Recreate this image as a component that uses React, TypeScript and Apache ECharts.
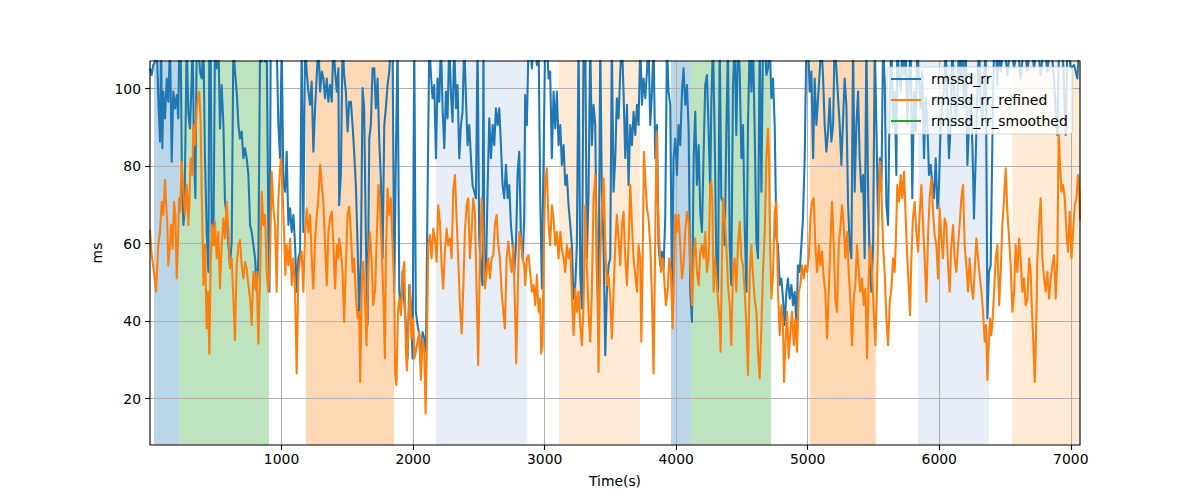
import React, { useEffect, useRef } from 'react';
import * as echarts from 'echarts';

// ---- data -------------------------------------------------------------
const xTickValues = [1000, 2000, 3000, 4000, 5000, 6000, 7000];
const yTickValues = [20, 40, 60, 80, 100];

// shaded windows (seconds) and their kind
const spanStart = [30, 223, 1186, 2174, 3109, 3961, 4113, 5018, 5839, 6555];
const spanEnd = [223, 905, 1855, 2868, 3725, 4113, 4721, 5517, 6378, 7070];
const spanKind = ['C0', 'C2', 'C1', 'C0l', 'C1l', 'C0', 'C2', 'C1', 'C0l', 'C1l'];

// rmssd_rr  [time(s), ms]  (values above the axis top are clipped)
const rmssdRr: [number, number][] = [
  [0,105.2],[13,103.5],[25,106.1],[38,106.9],[51,112],[63,97.5],[76,86.3],[84,112],[94,84.6],[101,99.2],[114,92.3],[127,102.6],[139,96.6],[152,112],[165,81.1],[177,99.2],[190,94.9],[203,98.3],[215,92.3],[223,112],[233,112],[243,75.1],[254,64.8],[261,67.4],[269,86.3],[279,112],[292,93.2],[304,89.7],[317,102.6],[324,112],[335,82.9],[345,71.7],[355,112],[368,112],[380,104.4],[393,102.6],[406,112],[418,82.0],[431,63.0],[444,52.7],[451,112],[461,112],[469,63.0],[482,59.6],[494,112],[507,105.2],[520,112],[532,89.7],[545,100.9],[558,90.6],[570,70.8],[583,67.4],[596,59.6],[608,54.4],[621,60.5],[634,112],[646,104.4],[659,99.2],[672,90.6],[684,87.1],[697,88.9],[710,82.0],[722,84.6],[735,82.0],[748,77.7],[761,64.8],[773,63.0],[786,59.6],[799,56.2],[811,47.6],[824,56.2],[837,112],[849,106.9],[862,112],[875,106.9],[887,112],[900,63.0],[908,47.6],[918,112],[938,112],[963,112],[976,90.6],[989,82.0],[1001,112],[1014,75.1],[1027,73.4],[1039,83.7],[1052,64.8],[1065,69.1],[1077,63.0],[1090,67.4],[1103,59.6],[1115,47.6],[1128,56.2],[1141,57.9],[1153,112],[1166,63.0],[1179,112],[1191,104.4],[1204,99.2],[1217,95.8],[1229,101.8],[1242,83.7],[1255,94.9],[1268,103.5],[1280,112],[1293,99.2],[1306,104.4],[1318,102.6],[1331,97.5],[1344,102.6],[1356,96.6],[1369,100.9],[1382,96.6],[1394,112],[1407,104.4],[1420,99.2],[1432,105.2],
  [1438,69.9],[1451,77.7],[1464,112],[1476,103.5],[1489,99.2],[1502,88.9],[1514,96.6],[1527,96.6],[1540,90.6],[1552,83.7],[1565,75.1],[1578,59.6],[1590,41.5],[1603,56.2],[1616,100.1],[1628,94.9],[1641,61.3],[1654,39.0],[1667,87.1],[1679,90.6],[1692,105.2],[1705,105.2],[1717,94.9],[1730,102.6],[1743,86.3],[1755,76.8],[1768,56.2],[1781,90.6],[1793,94.9],[1806,100.9],[1819,104.4],[1831,112],[1844,112],[1857,47.6],[1869,82.0],[1882,112],[1895,47.6],[1907,42.4],[1920,52.7],[1933,45.0],[1945,39.0],[1958,30.4],[1971,49.3],[1983,44.1],[1996,30.4],[2009,112],[2021,42.4],[2034,39.0],[2047,36.4],[2059,28.6],[2072,37.2],[2085,35.5],[2098,32.1],[2110,71.7],[2123,112],[2136,103.5],[2148,97.5],[2161,100.9],[2174,82.0],[2186,102.6],[2199,96.6],[2212,112],[2224,94.9],[2237,84.6],[2250,99.2],[2262,92.3],[2275,112],[2288,98.3],[2300,91.4],[2313,112],[2326,94.9],[2338,100.9],[2351,82.0],[2364,90.6],[2376,94.0],[2389,112],[2402,97.5],[2414,85.4],[2427,90.6],[2440,82.0],[2452,75.1],[2465,73.4],[2478,71.7],[2490,112],[2503,61.3],[2516,52.7],[2528,49.3],[2535,112],[2541,56.2],[2554,51.9],[2566,73.4],[2579,92.3],[2592,82.0],[2605,90.6],[2617,85.4],[2630,94.9],[2643,90.6],[2655,94.9],[2668,85.4],[2680,75.1],[2693,71.7],[2706,80.3],[2719,71.7],[2731,75.1],[2744,64.8],[2757,59.6],[2769,52.7],[2782,59.6],[2795,78.5],[2807,83.7],[2820,61.3],[2833,56.2],[2845,66.5],
  [2852,98.3],[2865,90.6],[2878,112],[2890,112],[2903,105.2],[2916,112],[2928,112],[2941,106.1],[2954,112],[2966,73.4],[2979,48.4],[2992,82.0],[3004,112],[3017,112],[3030,102.6],[3042,104.4],[3055,82.0],[3068,99.2],[3081,89.7],[3093,99.2],[3106,85.4],[3119,90.6],[3131,80.3],[3144,85.4],[3157,75.1],[3169,77.7],[3182,69.9],[3195,64.8],[3207,59.6],[3220,45.8],[3233,49.3],[3245,59.6],[3258,112],[3271,51.9],[3283,43.3],[3296,112],[3309,112],[3321,56.2],[3334,73.4],[3347,112],[3359,85.4],[3372,95.8],[3385,90.6],[3397,52.7],[3410,42.4],[3423,112],[3435,73.4],[3448,59.6],[3461,31.2],[3473,47.6],[3486,54.4],[3499,56.2],[3511,112],[3524,73.4],[3537,82.0],[3549,97.5],[3562,92.3],[3575,104.4],[3588,112],[3600,99.2],[3613,82.0],[3626,95.8],[3638,75.1],[3651,90.6],[3664,85.4],[3676,94.0],[3689,88.0],[3702,95.8],[3714,90.6],[3727,112],[3740,95.8],[3752,102.6],[3765,97.5],[3778,104.4],[3790,112],[3803,90.6],[3816,99.2],[3828,112],[3841,82.0],[3854,90.6],[3866,59.6],[3879,54.4],[3892,57.9],[3904,53.6],[3917,66.5],[3930,112],[3942,99.2],[3955,95.8],[3968,47.6],[3980,82.0],[3993,87.1],[4006,77.7],[4018,90.6],[4031,85.4],[4044,99.2],[4056,105.2],[4069,95.8],[4082,100.9],[4095,88.9],[4107,47.6],[4120,39.8],[4133,82.0],[4145,94.0],[4158,75.1],[4171,85.4],[4183,68.2],[4196,63.0],[4209,83.7],[4221,100.9],[4234,103.5],[4247,88.9],[4259,73.4],
  [4267,95.8],[4280,112],[4293,87.1],[4305,56.2],[4318,47.6],[4331,112],[4343,71.7],[4356,70.8],[4369,59.6],[4381,88.0],[4394,112],[4407,59.6],[4419,49.3],[4432,100.9],[4445,112],[4457,88.0],[4470,112],[4483,104.4],[4496,82.0],[4508,90.6],[4521,64.8],[4534,47.6],[4546,90.6],[4559,112],[4572,99.2],[4584,112],[4597,88.9],[4610,60.5],[4622,56.2],[4635,112],[4648,73.4],[4660,112],[4673,112],[4686,103.5],[4698,105.2],[4711,112],[4724,97.5],[4736,102.6],[4749,90.6],[4762,61.3],[4774,59.6],[4787,49.3],[4800,51.0],[4812,45.8],[4825,39.0],[4838,47.6],[4850,51.0],[4863,45.8],[4876,49.3],[4888,44.1],[4901,47.6],[4914,39.0],[4926,54.4],[4939,52.7],[4952,59.6],[4964,66.5],[4977,82.0],[4990,112],[5003,112],[5015,99.2],[5028,104.4],[5041,82.0],[5053,102.6],[5066,90.6],[5079,97.5],[5091,104.4],[5104,112],[5117,102.6],[5129,90.6],[5142,83.7],[5155,88.9],[5167,97.5],[5180,86.3],[5193,90.6],[5205,112],[5218,105.2],[5231,97.5],[5243,90.6],[5256,80.3],[5269,92.3],[5281,102.6],[5294,95.8],[5307,69.9],[5319,59.6],[5332,56.2],[5345,112],[5357,73.4],[5370,90.6],[5383,99.2],[5395,82.0],[5408,73.4],[5421,77.7],[5433,56.2],[5446,112],[5459,73.4],[5471,56.2],[5484,47.6],[5497,59.6],[5510,112],[5522,90.6],[5535,64.8],[5548,82.0],[5560,73.4],[5573,112],[5586,100.9],[5598,69.9],[5611,64.8],[5624,99.2],[5636,112],[5649,90.6],[5661,99.2],[5674,77.7],
  [5681,112],[5694,102.6],[5707,99.2],[5719,112],[5732,103.5],[5745,112],[5757,90.6],[5770,102.6],[5783,112],[5795,71.7],[5808,99.2],[5821,88.9],[5833,112],[5846,102.6],[5859,94.9],[5871,104.4],[5884,82.0],[5897,97.5],[5910,90.6],[5922,77.7],[5935,80.3],[5948,75.1],[5960,71.7],[5973,82.0],[5986,69.1],[5998,75.1],[6011,90.6],[6024,97.5],[6036,99.2],[6049,112],[6062,95.8],[6074,82.0],[6087,90.6],[6100,112],[6112,99.2],[6125,90.6],[6138,97.5],[6150,112],[6163,102.6],[6176,112],[6188,94.9],[6201,112],[6214,80.3],[6226,90.6],[6239,97.5],[6252,85.4],[6264,66.5],[6277,82.0],[6290,99.2],[6302,112],[6315,95.8],[6328,92.3],[6340,99.2],[6353,112],[6366,40.7],[6378,52.7],[6391,54.4],[6404,87.1],[6417,112],[6429,112],[6442,100.9],[6455,112],[6467,104.4],[6493,112],[6518,103.5],[6543,112],[6569,105.2],[6594,112],[6619,102.6],[6645,112],[6670,104.4],[6695,112],[6721,105.2],[6746,112],[6771,103.5],[6797,112],[6822,104.4],[6847,112],[6873,102.6],[6890,90.6],[6898,88.0],[6911,112],[6936,112],[6961,88.0],[6974,112],[6999,105.2],[7025,106.1],[7050,102.6],[7065,112]
];

// rmssd_rr_refined  [time(s), ms]
const rmssdRrRefined: [number, number][] = [
  [0,63.5],[13,57.0],[30,52.7],[46,47.6],[63,59.6],[76,63.0],[89,70.8],[101,67.4],[114,76.4],[122,70.8],[132,64.8],[139,54.4],[152,59.6],[160,64.8],[172,58.7],[183,70.8],[193,67.4],[203,51.0],[213,60.5],[221,71.7],[228,68.2],[241,81.1],[254,73.4],[266,67.4],[279,75.1],[292,64.8],[299,70.8],[309,82.0],[322,77.7],[330,90.6],[342,85.4],[355,94.9],[368,98.3],[375,99.2],[385,91.4],[393,73.4],[401,60.5],[406,49.3],[418,59.6],[431,38.1],[441,47.6],[451,31.6],[461,54.4],[472,64.8],[482,59.6],[494,65.6],[507,56.2],[520,63.0],[532,48.4],[545,59.6],[558,66.5],[570,61.3],[583,70.8],[596,63.0],[608,53.6],[621,56.2],[634,45.8],[646,35.1],[659,54.4],[672,59.6],[684,60.9],[697,54.4],[710,51.0],[722,55.3],[735,53.6],[748,49.3],[761,45.8],[773,39.0],[786,52.7],[799,48.4],[811,52.7],[824,34.2],[837,51.9],[849,73.4],[862,64.8],[875,67.4],[887,52.7],[900,47.6],[913,57.9],[925,78.5],[938,69.1],[951,64.8],[963,47.6],[976,71.7],[989,79.4],[996,82.0],[1006,75.1],[1019,63.0],[1029,51.9],[1039,59.6],[1052,54.4],[1065,61.3],[1077,49.3],[1090,56.2],[1103,47.6],[1115,26.5],[1128,51.9],[1141,56.2],[1153,57.9],[1166,47.6],[1179,63.0],[1191,69.1],[1204,63.0],[1217,67.4],[1229,56.2],[1242,48.4],[1255,61.3],[1268,67.4],[1280,71.7],[1293,80.3],[1306,75.1],[1318,70.8],[1331,59.6],[1344,49.3],[1356,63.0],[1369,66.5],[1382,68.2],[1394,59.6],[1407,48.4],[1420,59.6],[1432,56.2],
  [1438,61.3],[1451,57.9],[1464,52.7],[1476,39.8],[1489,54.4],[1502,67.4],[1514,69.5],[1527,63.0],[1540,52.7],[1552,56.2],[1565,46.7],[1578,40.7],[1590,42.4],[1598,24.3],[1611,51.0],[1621,55.3],[1634,45.8],[1646,33.8],[1659,52.7],[1672,63.0],[1684,56.2],[1697,44.1],[1712,48.4],[1722,59.6],[1737,75.1],[1748,69.9],[1760,59.6],[1773,47.6],[1786,30.4],[1793,56.2],[1806,74.2],[1819,67.4],[1831,71.7],[1844,59.6],[1857,47.6],[1864,26.1],[1874,23.5],[1885,42.4],[1895,45.8],[1907,41.5],[1920,51.9],[1933,55.3],[1945,32.9],[1953,27.3],[1966,40.7],[1976,49.3],[1988,35.5],[2001,40.7],[2011,30.4],[2021,32.1],[2034,34.7],[2047,37.2],[2059,24.8],[2072,35.5],[2085,32.1],[2095,16.2],[2105,33.8],[2115,59.6],[2128,62.2],[2141,56.2],[2153,63.9],[2166,61.3],[2179,55.3],[2191,69.9],[2204,65.6],[2217,54.4],[2229,48.4],[2242,57.9],[2255,63.9],[2267,59.6],[2280,61.3],[2293,56.2],[2305,73.4],[2318,77.7],[2331,66.5],[2343,56.2],[2356,44.1],[2369,36.8],[2381,47.6],[2394,63.0],[2407,69.9],[2419,71.7],[2432,56.2],[2445,63.0],[2457,71.7],[2470,68.2],[2483,47.6],[2495,28.6],[2508,56.2],[2521,71.7],[2533,61.3],[2546,48.4],[2559,52.7],[2571,56.2],[2584,51.0],[2597,56.2],[2610,57.0],[2622,64.8],[2635,67.4],[2648,59.6],[2660,56.2],[2673,47.6],[2686,42.4],[2698,38.1],[2711,56.2],[2724,60.5],[2736,56.2],[2749,52.7],[2762,59.6],[2774,44.1],[2784,29.1],[2797,49.3],[2807,63.0],[2820,61.3],[2833,56.2],[2845,54.4],
  [2852,49.3],[2865,56.2],[2878,57.0],[2890,52.7],[2903,47.6],[2916,49.3],[2928,44.1],[2941,51.9],[2954,42.4],[2966,45.8],[2974,31.6],[2984,33.8],[2994,59.6],[3004,75.1],[3017,79.4],[3030,64.8],[3042,59.6],[3055,69.9],[3068,66.5],[3081,59.6],[3093,63.0],[3106,56.2],[3119,63.0],[3131,58.7],[3144,56.2],[3157,52.7],[3169,59.6],[3182,56.2],[3195,58.7],[3207,47.6],[3220,36.4],[3233,48.4],[3245,42.4],[3258,47.6],[3271,39.0],[3283,33.8],[3296,44.1],[3309,69.9],[3321,54.4],[3334,42.4],[3347,34.7],[3359,47.6],[3372,71.7],[3385,77.7],[3397,59.6],[3410,26.9],[3423,56.2],[3435,69.1],[3448,76.8],[3461,59.6],[3473,49.3],[3486,51.9],[3499,45.8],[3511,35.5],[3524,47.6],[3537,59.6],[3549,67.4],[3562,61.3],[3575,54.4],[3588,64.8],[3600,68.2],[3613,56.2],[3626,49.3],[3638,59.6],[3651,75.1],[3664,64.8],[3676,56.2],[3689,51.9],[3702,47.6],[3714,59.6],[3727,56.2],[3735,34.7],[3745,54.4],[3755,83.7],[3765,76.8],[3778,69.1],[3790,66.5],[3803,59.6],[3816,45.8],[3828,26.5],[3841,61.3],[3851,88.9],[3861,69.9],[3871,61.3],[3884,52.7],[3897,56.2],[3909,51.0],[3922,44.1],[3935,47.6],[3947,56.2],[3960,52.7],[3973,38.1],[3983,51.9],[3993,67.4],[4006,63.0],[4018,67.4],[4031,59.6],[4044,51.0],[4056,54.4],[4069,63.0],[4082,68.2],[4095,65.6],[4107,54.4],[4120,44.1],[4133,56.2],[4145,61.3],[4158,52.7],[4171,49.3],[4183,57.9],[4196,59.6],[4209,56.2],[4221,63.0],[4234,52.7],[4247,56.2],[4259,75.1],
  [4267,76.0],[4275,70.8],[4285,47.6],[4293,56.2],[4305,51.9],[4318,45.8],[4331,39.8],[4338,32.1],[4348,56.2],[4356,71.7],[4369,66.5],[4381,59.6],[4394,49.3],[4407,44.1],[4419,33.8],[4432,52.7],[4445,56.2],[4457,47.6],[4470,59.6],[4483,65.6],[4496,56.2],[4508,54.4],[4521,47.6],[4534,39.0],[4546,26.1],[4559,51.9],[4572,59.6],[4584,51.9],[4597,45.8],[4610,42.4],[4622,32.1],[4635,25.2],[4648,39.0],[4660,52.7],[4673,63.0],[4686,82.0],[4698,89.7],[4706,82.0],[4714,59.6],[4724,45.8],[4736,51.9],[4749,68.2],[4762,70.8],[4774,47.6],[4787,36.4],[4800,44.1],[4812,39.0],[4820,24.3],[4830,33.8],[4843,42.4],[4855,30.4],[4868,37.2],[4881,42.4],[4894,33.8],[4906,40.7],[4919,32.1],[4932,47.6],[4944,49.3],[4957,54.4],[4970,51.0],[4982,54.4],[4995,52.7],[5008,56.2],[5020,66.5],[5033,70.8],[5046,71.7],[5058,59.6],[5071,52.7],[5084,59.6],[5096,54.4],[5109,57.9],[5122,51.0],[5134,47.6],[5147,35.5],[5160,47.6],[5172,59.6],[5185,70.8],[5198,59.6],[5210,45.8],[5223,42.4],[5236,59.6],[5248,63.9],[5261,69.9],[5274,64.8],[5286,56.2],[5299,63.0],[5312,52.7],[5324,45.8],[5337,33.8],[5350,45.8],[5362,49.3],[5375,59.6],[5388,52.7],[5400,47.6],[5413,51.0],[5426,44.1],[5439,48.4],[5451,30.4],[5464,51.9],[5477,59.6],[5489,52.7],[5502,42.4],[5515,33.8],[5527,49.3],[5540,71.7],[5550,81.1],[5560,73.4],[5573,59.6],[5586,51.9],[5598,40.7],[5611,33.8],[5624,45.0],[5636,48.4],[5649,56.2],[5661,52.7],
  [5669,59.6],[5681,75.1],[5694,70.8],[5707,77.7],[5719,71.7],[5732,78.5],[5745,66.5],[5757,56.2],[5770,47.6],[5778,41.5],[5788,56.2],[5800,66.5],[5813,70.8],[5826,63.0],[5839,57.9],[5851,67.4],[5864,75.1],[5877,64.8],[5889,56.2],[5902,45.0],[5915,62.2],[5927,71.7],[5940,76.8],[5953,68.2],[5965,62.2],[5978,59.6],[5991,51.0],[6003,69.1],[6016,61.3],[6029,56.2],[6041,66.5],[6054,64.8],[6067,54.4],[6079,47.6],[6092,59.6],[6105,64.8],[6117,56.2],[6130,52.7],[6143,59.6],[6155,64.8],[6168,71.7],[6181,75.1],[6193,59.6],[6206,54.4],[6219,47.6],[6231,56.2],[6244,49.3],[6257,45.8],[6269,52.7],[6282,61.3],[6295,56.2],[6307,51.9],[6320,47.6],[6333,42.4],[6346,34.7],[6356,39.0],[6366,24.8],[6376,33.8],[6386,40.7],[6396,36.4],[6406,40.7],[6417,47.6],[6429,56.2],[6442,59.6],[6455,44.1],[6467,52.7],[6480,64.8],[6493,71.7],[6505,79.4],[6518,68.2],[6531,61.3],[6543,54.4],[6556,42.4],[6569,47.6],[6581,59.6],[6594,52.7],[6607,61.3],[6619,56.2],[6632,47.6],[6645,51.0],[6657,44.1],[6670,45.8],[6683,56.2],[6695,52.7],[6705,42.4],[6716,33.8],[6726,24.3],[6736,37.2],[6746,56.2],[6759,64.8],[6771,71.7],[6784,56.2],[6797,51.0],[6809,47.6],[6822,52.7],[6835,45.8],[6847,51.0],[6860,54.4],[6873,57.0],[6885,45.8],[6898,56.2],[6908,88.9],[6918,80.3],[6929,73.4],[6941,75.1],[6954,71.7],[6967,63.0],[6979,57.9],[6992,68.2],[7005,56.2],[7017,63.0],[7030,69.9],[7043,71.7],[7055,77.7],[7065,73.4],[7070,66.0]
];

// rmssd_rr_smoothed has no visible samples in the figure
const rmssdRrSmoothed: [number, number][] = [];

const seriesNames = ['rmssd_rr', 'rmssd_rr_refined', 'rmssd_rr_smoothed'];

// ---- styles -----------------------------------------------------------
const SPAN_COLORS: Record<string, string> = {
  C0: 'rgba(31,119,180,0.3)',
  C2: 'rgba(44,160,44,0.3)',
  C1: 'rgba(255,127,14,0.3)',
  C0l: 'rgba(174,199,232,0.3)',
  C1l: 'rgba(255,187,120,0.3)',
};
const FONT = 'DejaVu Sans';
const FS = 13.9;
const LW = 2.08; // 1.5pt at 100 dpi
const THIN = 1.1; // 0.8pt at 100 dpi
const LEGEND_LINE = 'path://M0,0 L30,0 L30,2.08 L0,2.08 Z';

export default function App() {
  const ref = useRef<HTMLDivElement>(null);

  useEffect(() => {
    if (!ref.current) return;
    const chart = echarts.init(ref.current, null, { renderer: 'svg' });

    const spanData = spanStart.map((s, i) => [
      { xAxis: s, itemStyle: { color: SPAN_COLORS[spanKind[i]] } },
      { xAxis: spanEnd[i] },
    ]);

    const lineSeries = (name: string, data: [number, number][], color: string) => ({
      name,
      type: 'line',
      data,
      color,
      symbol: 'none',
      showSymbol: false,
      clip: true,
      z: 2,
      lineStyle: { color, width: LW, join: 'round' },
    });

    chart.setOption({
      animation: false,
      backgroundColor: '#ffffff',
      grid: {
        left: 150,
        top: 61,
        width: 930,
        height: 384,
        show: true,
        borderColor: '#000000',
        borderWidth: THIN,
        backgroundColor: 'transparent',
        z: 3,
      },
      xAxis: {
        type: 'value',
        min: 0,
        max: 7070,
        z: 1,
        name: 'Time(s)',
        nameLocation: 'middle',
        nameGap: 29,
        nameTextStyle: { fontFamily: FONT, fontSize: FS, color: '#000' },
        axisLine: { show: false },
        axisTick: {
          show: true,
          length: 4.9,
          lineStyle: { color: '#000', width: THIN },
          customValues: xTickValues,
        },
        axisLabel: {
          margin: 7,
          fontFamily: FONT,
          fontSize: FS,
          color: '#000',
          customValues: xTickValues,
          formatter: (v: number) => (xTickValues.includes(v) ? String(v) : ''),
        },
        splitLine: { show: true, lineStyle: { color: '#b0b0b0', width: THIN } },
      },
      yAxis: {
        type: 'value',
        min: 8.05,
        max: 107.1,
        z: 1,
        name: 'ms',
        nameLocation: 'middle',
        nameGap: 40,
        nameRotate: 90,
        nameTextStyle: { fontFamily: FONT, fontSize: FS, color: '#000' },
        axisLine: { show: false },
        axisTick: {
          show: true,
          length: 4.9,
          lineStyle: { color: '#000', width: THIN },
          customValues: yTickValues,
        },
        axisLabel: {
          margin: 9,
          fontFamily: FONT,
          fontSize: FS,
          color: '#000',
          customValues: yTickValues,
          formatter: (v: number) => (yTickValues.includes(v) ? String(v) : ''),
        },
        splitLine: { show: true, lineStyle: { color: '#b0b0b0', width: THIN } },
      },
      legend: {
        data: seriesNames.map((name) => ({ name, icon: LEGEND_LINE })),
        orient: 'vertical',
        left: 887,
        top: 67,
        padding: [5, 5, 6, 4],
        itemWidth: 30,
        itemHeight: 14,
        itemGap: 7,
        selectedMode: false,
        backgroundColor: 'rgba(255,255,255,0.8)',
        borderColor: 'rgba(204,204,204,0.8)',
        borderWidth: 1,
        borderRadius: 4,
        textStyle: {
          fontFamily: FONT,
          fontSize: FS,
          color: '#000',
          lineHeight: 14,
          padding: [0, 0, 0, 5],
        },
      },
      series: [
        {
          name: 'spans',
          type: 'line',
          data: [],
          silent: true,
          z: 0,
          markArea: { silent: true, z: 0, data: spanData },
        },
        lineSeries(seriesNames[0], rmssdRr, '#1f77b4'),
        lineSeries(seriesNames[1], rmssdRrRefined, '#ff7f0e'),
        lineSeries(seriesNames[2], rmssdRrSmoothed, '#2ca02c'),
      ],
    });

    return () => chart.dispose();
  }, []);

  return (
    <div
      ref={ref}
      style={{ position: 'fixed', left: 0, top: 0, width: 1200, height: 500, background: '#fff' }}
    />
  );
}
